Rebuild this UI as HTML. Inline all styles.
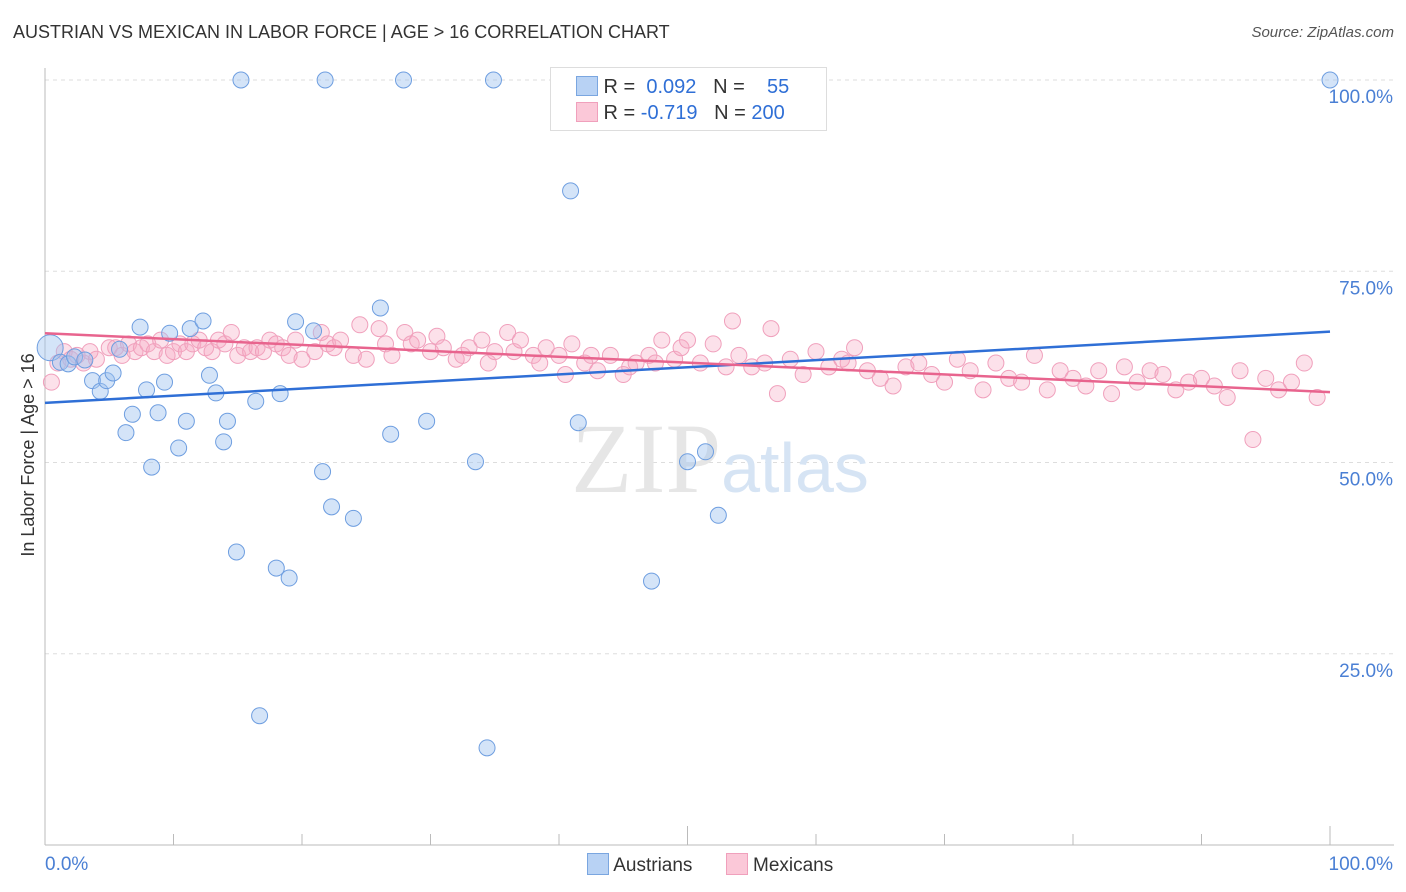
<!DOCTYPE html>
<html><head><meta charset="utf-8">
<style>
body{margin:0;background:#fff;font-family:"Liberation Sans",sans-serif;}
#wrap{position:relative;width:1406px;height:892px;}
.t{position:absolute;white-space:nowrap}
</style></head><body>
<div id="wrap">
<div class="t" style="left:13px;top:22px;font-size:18px;color:#333">AUSTRIAN VS MEXICAN IN LABOR FORCE | AGE &gt; 16 CORRELATION CHART</div>
<div class="t" style="right:12px;top:24px;font-size:15px;color:#555;font-style:italic">Source: ZipAtlas.com</div>
<svg id="svg" width="1406" height="892" style="position:absolute;left:0;top:0"></svg>
</div>
<script>
const blueX=[15.25,21.8,27.9,34.9,100,40.9,0.4,1.2,1.8,2.3,3.1,3.7,4.3,4.8,5.3,5.8,7.4,7.9,6.3,6.8,8.3,8.8,9.3,9.7,10.4,11.0,11.3,12.3,12.8,13.3,13.9,14.2,14.9,16.4,16.7,18.0,18.3,19.0,19.5,20.9,21.6,22.3,24.0,26.1,26.9,29.7,33.5,34.4,41.5,47.2,50.0,51.4,52.4];
const blueY=[100,100,100,100,100,85.5,65.0,63.1,62.9,63.8,63.4,60.7,59.3,60.7,61.7,64.8,67.7,59.5,53.9,56.3,49.4,56.5,60.5,66.9,51.9,55.4,67.5,68.5,61.4,59.1,52.7,55.4,38.3,58.0,16.9,36.2,59.0,34.9,68.4,67.2,48.8,44.2,42.7,70.2,53.7,55.4,50.1,12.7,55.2,34.5,50.1,51.4,43.1];
const pinkX=[0.5,1,1.5,2,2.5,3,3.5,4,5,5.5,6,6.5,7,7.5,8,8.5,9,9.5,10,10.5,11,11.5,12,12.5,13,13.5,14,14.5,15,15.5,16,16.5,17,17.5,18,18.5,19,19.5,20,21,21.5,22,22.5,23,24,24.5,25,26,26.5,27,28,28.5,29,30,30.5,31,32,32.5,33,34,34.5,35,36,36.5,37,38,38.5,39,40,40.5,41,42,42.5,43,44,45,45.5,46,47,47.5,48,49,49.5,50,51,52,53,53.5,54,55,56,56.5,57,58,59,60,61,62,62.5,63,64,65,66,67,68,69,70,71,72,73,74,75,76,77,78,79,80,81,82,83,84,85,86,87,88,89,90,91,92,93,94,95,96,97,98,99];
const pinkY=[60.5,63,64.5,63.5,64,63,64.5,63.5,65,65,64,65.5,64.5,65,65.5,64.5,66,64,64.5,65.5,64.5,65.5,66,65,64.5,66,65.5,67,64,65,64.5,65,64.5,66,65.5,65,64,66,63.5,64.5,67,65.5,65,66,64,68,63.5,67.5,65.5,64,67,65.5,66,64.5,66.5,65,63.5,64,65,66,63,64.5,67,64.5,66,64,63,65,64,61.5,65.5,63,64,62,64,61.5,62.5,63,64,63,66,63.5,65,66,63,65.5,62.5,68.5,64,62.5,63,67.5,59,63.5,61.5,64.5,62.5,63.5,63,65,62,61,60,62.5,63,61.5,60.5,63.5,62,59.5,63,61,60.5,64,59.5,62,61,60,62,59,62.5,60.5,62,61.5,59.5,60.5,61,60,58.5,62,53,61,59.5,60.5,63,58.5,59,57.5];
const trendB=[57.8,67.1], trendP=[66.9,59.2];
const xTicks=["0.0%","100.0%"], yTicks=[25,50,75,100];
const X0=45,X1=1330,Y0=845,Y100=80;
const sx=v=>X0+(X1-X0)*v/100, sy=v=>Y0-(Y0-Y100)*v/100;
const svg=document.getElementById('svg');const NS='http://www.w3.org/2000/svg';
function mk(tag,at,name){const e=document.createElementNS(NS,tag);for(const k in at)e.setAttribute(k,at[k]);


svg.appendChild(e);return e;}
yTicks.forEach(v=>{mk('line',{x1:45,x2:1394,y1:sy(v),y2:sy(v),stroke:'#ddd','stroke-dasharray':'4,4'},'gridline');
const t=mk('text',{x:1393,y:sy(v)+23,'text-anchor':'end','font-size':19,fill:'#4a7fd4','font-family':'Liberation Sans'},'y-tick-label');t.textContent=v.toFixed(1)+'%';});
mk('line',{x1:45,x2:45,y1:68,y2:845,stroke:'#bbb'},'y-axis');
mk('line',{x1:45,x2:1394,y1:845,y2:845,stroke:'#bbb'},'x-axis');
for(let i=0;i<=10;i++){mk('line',{x1:sx(i*10),x2:sx(i*10),y1:845,y2:i%5==0?826:834,stroke:'#bbb'},'x-tick');}
let t=mk('text',{x:45,y:870,'font-size':19,fill:'#4a7fd4','font-family':'Liberation Sans'},'x-tick-label');t.textContent=xTicks[0];
t=mk('text',{x:1393,y:870,'text-anchor':'end','font-size':19,fill:'#4a7fd4','font-family':'Liberation Sans'},'x-tick-label');t.textContent=xTicks[1];
t=mk('text',{x:0,y:0,transform:'translate(34,455) rotate(-90)','text-anchor':'middle','font-size':18,fill:'#333','font-family':'Liberation Sans'},'y-axis-title');t.textContent='In Labor Force | Age > 16';
t=mk('text',{x:720,y:492,'text-anchor':'middle','font-size':100,fill:'#e6e6e6','font-family':'Liberation Serif'},'watermark');t.innerHTML='ZIP<tspan fill="#d6e4f4" font-family="Liberation Sans" font-size="70">atlas</tspan>';
pinkX.forEach((x,i)=>mk('circle',{cx:sx(x),cy:sy(pinkY[i]),r:8,fill:'rgba(246,170,196,0.35)',stroke:'#f0a0bc','stroke-width':1},'mexican-point'));
blueX.forEach((x,i)=>mk('circle',{cx:sx(x),cy:sy(blueY[i]),r:i==6?13:8,fill:'rgba(160,195,240,0.45)',stroke:'#6e9ee0','stroke-width':1},'austrian-point'));
mk('line',{x1:sx(0),x2:sx(100),y1:sy(trendB[0]),y2:sy(trendB[1]),stroke:'#2f6fd6','stroke-width':2.5},'austrian-trend-line');
mk('line',{x1:sx(0),x2:sx(100),y1:sy(trendP[0]),y2:sy(trendP[1]),stroke:'#e8648e','stroke-width':2.5},'mexican-trend-line');
</script>
<div class="t" style="left:550px;top:67px;width:275px;height:62px;border:1px solid #ddd;background:#fff;font-size:20px;color:#333">
<div style="position:absolute;left:25px;top:8px"><span style="display:inline-block;width:20px;height:18px;background:#b8d2f4;border:1px solid #7aa6e0;vertical-align:-3px"></span> R = &nbsp;<span style="color:#2f6fd6">0.092</span> &nbsp; N = &nbsp;&nbsp; <span style="color:#2f6fd6">55</span></div>
<div style="position:absolute;left:25px;top:34px"><span style="display:inline-block;width:20px;height:18px;background:#fbc8d8;border:1px solid #f0a0bc;vertical-align:-3px"></span> R = <span style="color:#2f6fd6">-0.719</span> &nbsp; N = <span style="color:#2f6fd6">200</span></div>
</div>
<div class="t" style="left:587px;top:853px;font-size:19px;color:#333">
<span><span style="display:inline-block;width:20px;height:20px;background:#b8d2f4;border:1px solid #7aa6e0;vertical-align:-4px"></span> Austrians</span>
<span style="margin-left:28px"><span style="display:inline-block;width:20px;height:20px;background:#fbc8d8;border:1px solid #f0a0bc;vertical-align:-4px"></span> Mexicans</span>
</div>
</body></html>
